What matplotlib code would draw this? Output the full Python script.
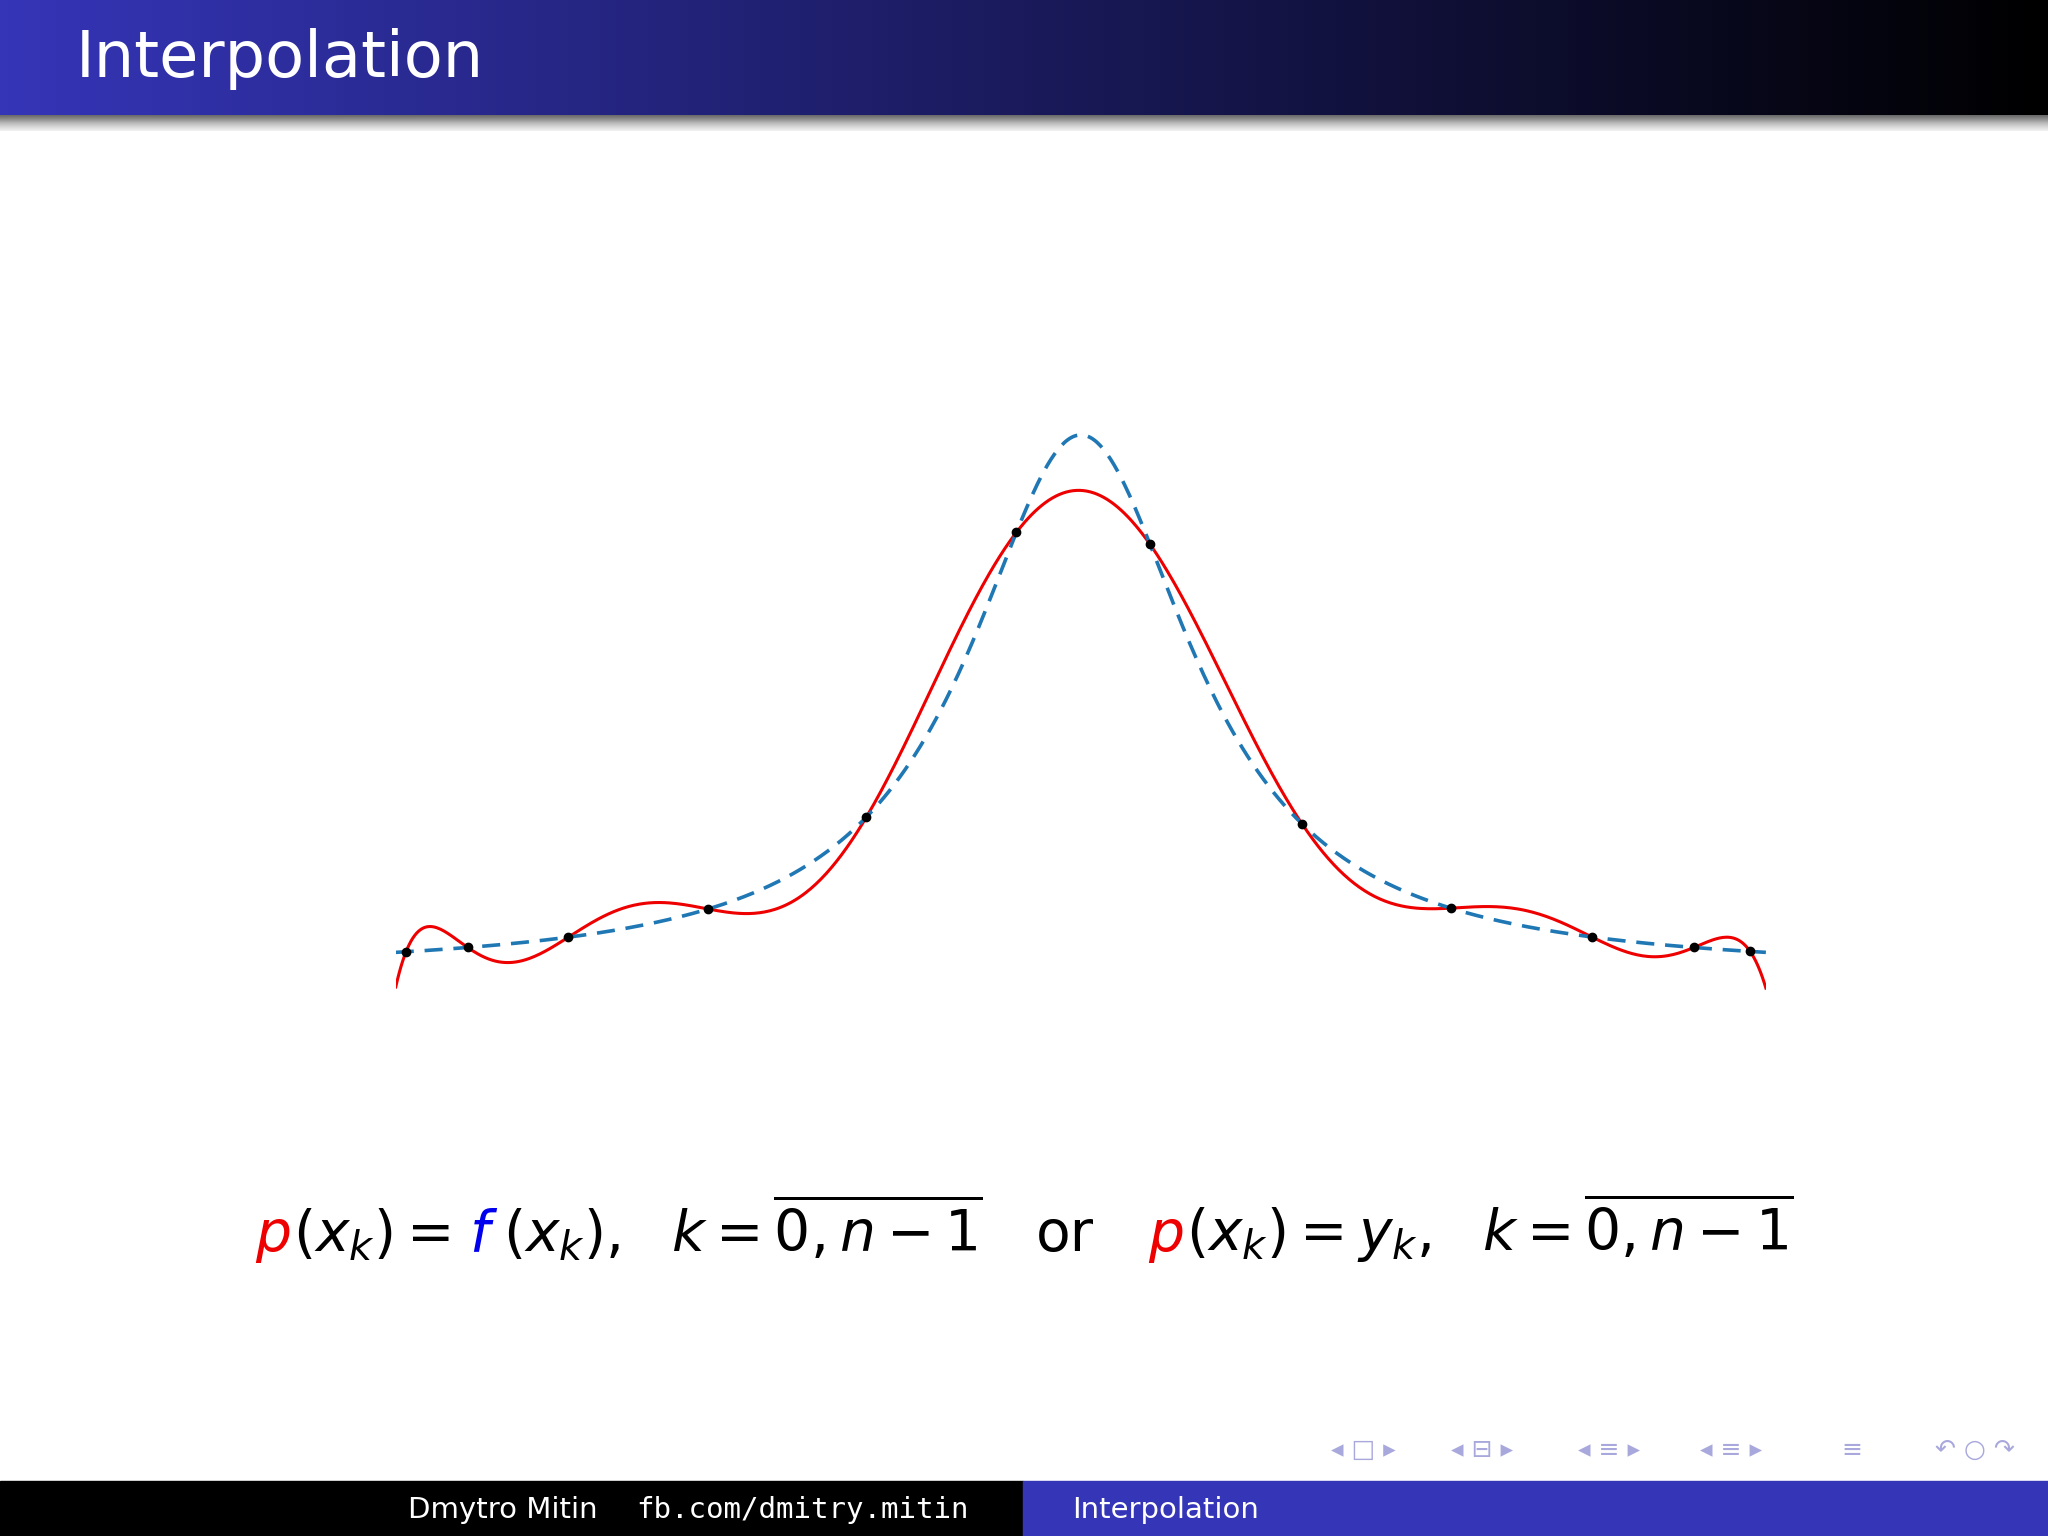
import numpy as np
import matplotlib.pyplot as plt
from matplotlib.colors import LinearSegmentedColormap

plt.rcParams['mathtext.fontset'] = 'dejavusans'

# interpolation nodes (x, mapped to [-1, 1])
node_x = [-0.985, -0.895, -0.748, -0.544, -0.313, -0.094, 0.101, 0.323, 0.540, 0.746, 0.895, 0.977]
runge_a = 25.0

W, H = 1568.0, 1176.0  # slide coords used for layout
fig = plt.figure(figsize=(20.48, 15.36), dpi=100)
fx = lambda px: px / W
fy = lambda py: 1 - py / H

# header gradient bar
hdr = fig.add_axes([0, fy(88), 1, 88 / H])
cm = LinearSegmentedColormap.from_list('hdr', ['#3535b8', '#1a1a5c', '#000000'])
hdr.imshow(np.linspace(0, 1, 256)[None, :], aspect='auto', cmap=cm, extent=[0, 1, 0, 1])
hdr.axis('off')
shadow = fig.add_axes([0, fy(100), 1, 12 / H])
shadow.imshow(np.linspace(0, 1, 64)[:, None], aspect='auto', cmap='Greys_r',
              extent=[0, 1, 0, 1], vmin=-0.6, vmax=1.2)
shadow.axis('off')
fig.text(fx(58), fy(45), 'Interpolation', color='white', fontsize=46, va='center')

# plot
Y0, HH = 745, 412
ax = fig.add_axes([fx(303), fy(780), fx(1352) - fx(303), (780 - 300) / H])
xs = np.linspace(-1, 1, 800)
f = lambda x: 1 / (1 + runge_a * np.asarray(x) ** 2)
nx = np.array(node_x)
ny = f(nx)
coef = np.polyfit(nx, ny, len(nx) - 1)
ax.plot(xs, np.polyval(coef, xs), color='#ee0000', lw=2.2)
ax.plot(xs, f(xs), color='#1f77b4', lw=2.6, ls=(0, (5, 3)))
ax.plot(nx, ny, 'o', color='black', ms=6)
ax.set_xlim(-1, 1)
ax.set_ylim(-(780 - Y0) / HH, (Y0 - 300) / HH)
ax.axis('off')

# formula
pieces = [(r'$p$', '#ee0000'), (r'$(x_k) = $', 'black'), (r'$f$', '#0000ee'),
          (r'$(x_k),\ \ k = \overline{0, n-1}$', 'black'), (r'or', 'black'),
          (r'$p$', '#ee0000'), (r'$(x_k) = y_k,\ \ k = \overline{0, n-1}$', 'black')]
gaps = [2, 14, 4, 40, 40, 2, 0]
r = fig.canvas.get_renderer()
fs = 40
ws = []
for s, c in pieces:
    t = fig.text(0, 0, s, fontsize=fs)
    ws.append(t.get_window_extent(r).width / fig.bbox.width * W)
    t.remove()
total = sum(ws) + sum(gaps[:-1])
scale = (1373 - 195) / total
fs *= scale
x = 195.0
for (s, c), w, g in zip(pieces, ws, gaps):
    fig.text(fx(x), fy(958), s, color=c, fontsize=fs, va='baseline')
    x += (w + g) * scale

# footer
fig.patches.append(plt.Rectangle((0, 0), fx(783), 42 / H, transform=fig.transFigure, color='black'))
fig.patches.append(plt.Rectangle((fx(783), 0), 1, 42 / H, transform=fig.transFigure, color='#3535b8'))
fig.text(fx(312), fy(1156), 'Dmytro Mitin', color='white', fontsize=21, va='center')
fig.text(fx(487), fy(1156), 'fb.com/dmitry.mitin', color='white', fontsize=21, va='center',
         family='DejaVu Sans Mono')
fig.text(fx(821), fy(1156), 'Interpolation', color='white', fontsize=21, va='center')

# navigation symbols
nav = ['◂ □ ▸', '◂ ⊟ ▸', '◂ ≡ ▸', '◂ ≡ ▸', '≡', '↶ ○ ↷']
navx = [1044, 1135, 1232, 1325, 1418, 1512]
for s, px in zip(nav, navx):
    fig.text(fx(px), fy(1110), s, color='#a8a8dd', fontsize=18, ha='center', va='center')

fig.savefig('out.png', dpi=100)
